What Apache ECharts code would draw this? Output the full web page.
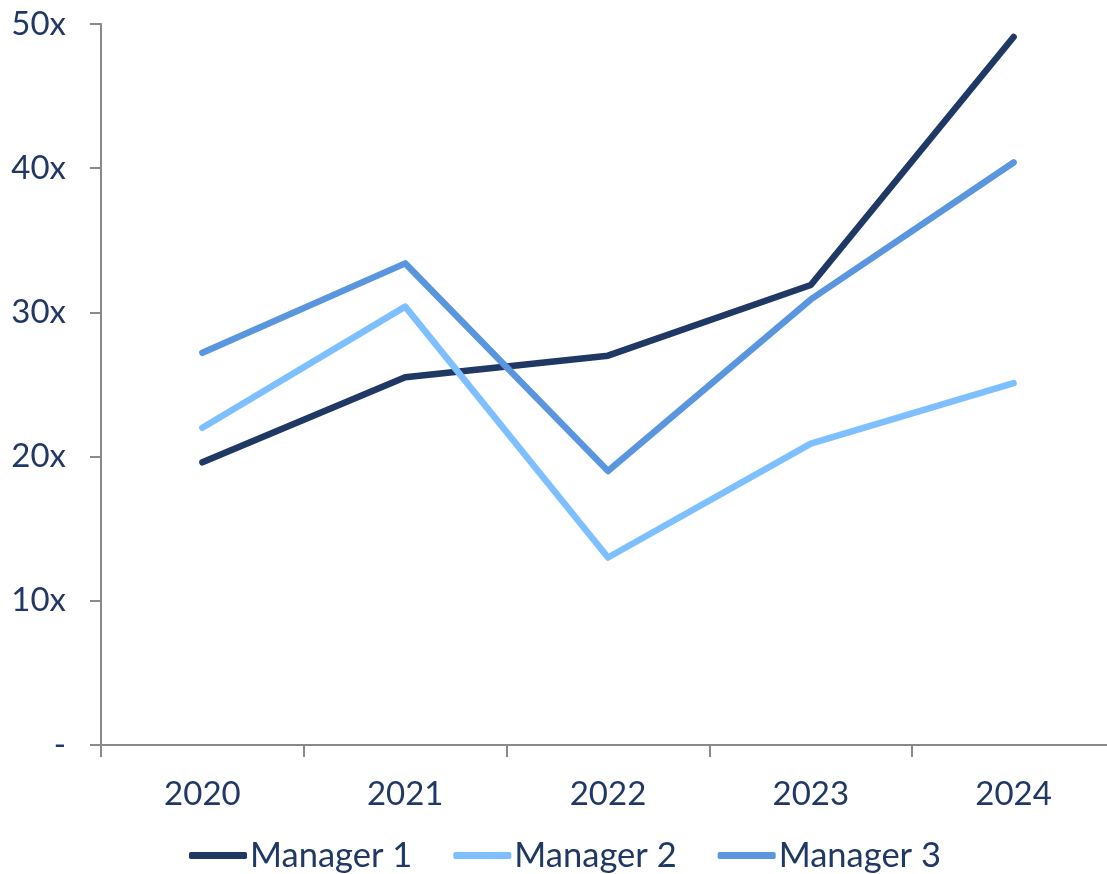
<!DOCTYPE html>
<html>
<head>
<meta charset="utf-8">
<script src="https://cdn.jsdelivr.net/npm/echarts@6/dist/echarts.min.js"></script>
<style>
  html, body { margin: 0; padding: 0; background: #ffffff; overflow: hidden; }
  /* canvas is a little wider than the window so the plot's last category runs off the right edge */
  #chart { width: 1120px; height: 874px; }
</style>
</head>
<body>
<div id="chart"></div>
<script>
// Valuation multiples by year for three managers
const years = ['2020', '2021', '2022', '2023', '2024'];
const manager1 = [19.6, 25.5, 27.0, 31.9, 49.1];
const manager2 = [22.0, 30.4, 13.0, 20.9, 25.1];
const manager3 = [27.2, 33.4, 19.0, 30.9, 40.4];
const seriesNames = ['Manager 1', 'Manager 2', 'Manager 3'];
const seriesColors = ['#1F3864', '#7DBFFF', '#5A96DE'];

const textColor = '#1F3864';
const axisColor = '#898989';
const fontFamily = 'Lato, "Open Sans", sans-serif';

const chart = echarts.init(document.getElementById('chart'), null, { renderer: 'canvas' });

const makeSeries = (name, data, color) => ({
  name: name,
  type: 'line',
  data: data,
  symbol: 'none',
  smooth: false,
  lineStyle: { color: color, width: 6.5, cap: 'round', join: 'round' },
  itemStyle: { color: color }
});

chart.setOption({
  animation: false,
  backgroundColor: '#ffffff',
  grid: { left: 101, top: 24, width: 1014, bottom: 129, containLabel: false },
  legend: {
    data: seriesNames,
    bottom: -4,
    left: 184,
    icon: 'roundRect',
    itemWidth: 58,
    itemHeight: 7,
    itemGap: 41,
    textStyle: { color: textColor, fontSize: 34.5, fontFamily: fontFamily, padding: [0, 0, 0, -2] }
  },
  xAxis: {
    type: 'category',
    data: years,
    boundaryGap: true,
    axisLine: { lineStyle: { color: axisColor, width: 2 } },
    axisTick: { show: true, inside: false, length: 12, lineStyle: { color: axisColor, width: 2 } },
    axisLabel: { color: textColor, fontSize: 33, fontFamily: fontFamily, margin: 33 },
    splitLine: { show: false }
  },
  yAxis: {
    type: 'value',
    min: 0,
    max: 50,
    interval: 10,
    axisLine: { show: true, lineStyle: { color: axisColor, width: 2 } },
    axisTick: { show: true, inside: false, length: 11, lineStyle: { color: axisColor, width: 2 } },
    axisLabel: {
      color: textColor,
      fontSize: 33,
      fontFamily: fontFamily,
      margin: 35,
      formatter: v => (v === 0 ? '-' : v + 'x')
    },
    splitLine: { show: false }
  },
  series: [
    makeSeries(seriesNames[0], manager1, seriesColors[0]),
    makeSeries(seriesNames[1], manager2, seriesColors[1]),
    makeSeries(seriesNames[2], manager3, seriesColors[2])
  ]
});
</script>
</body>
</html>
